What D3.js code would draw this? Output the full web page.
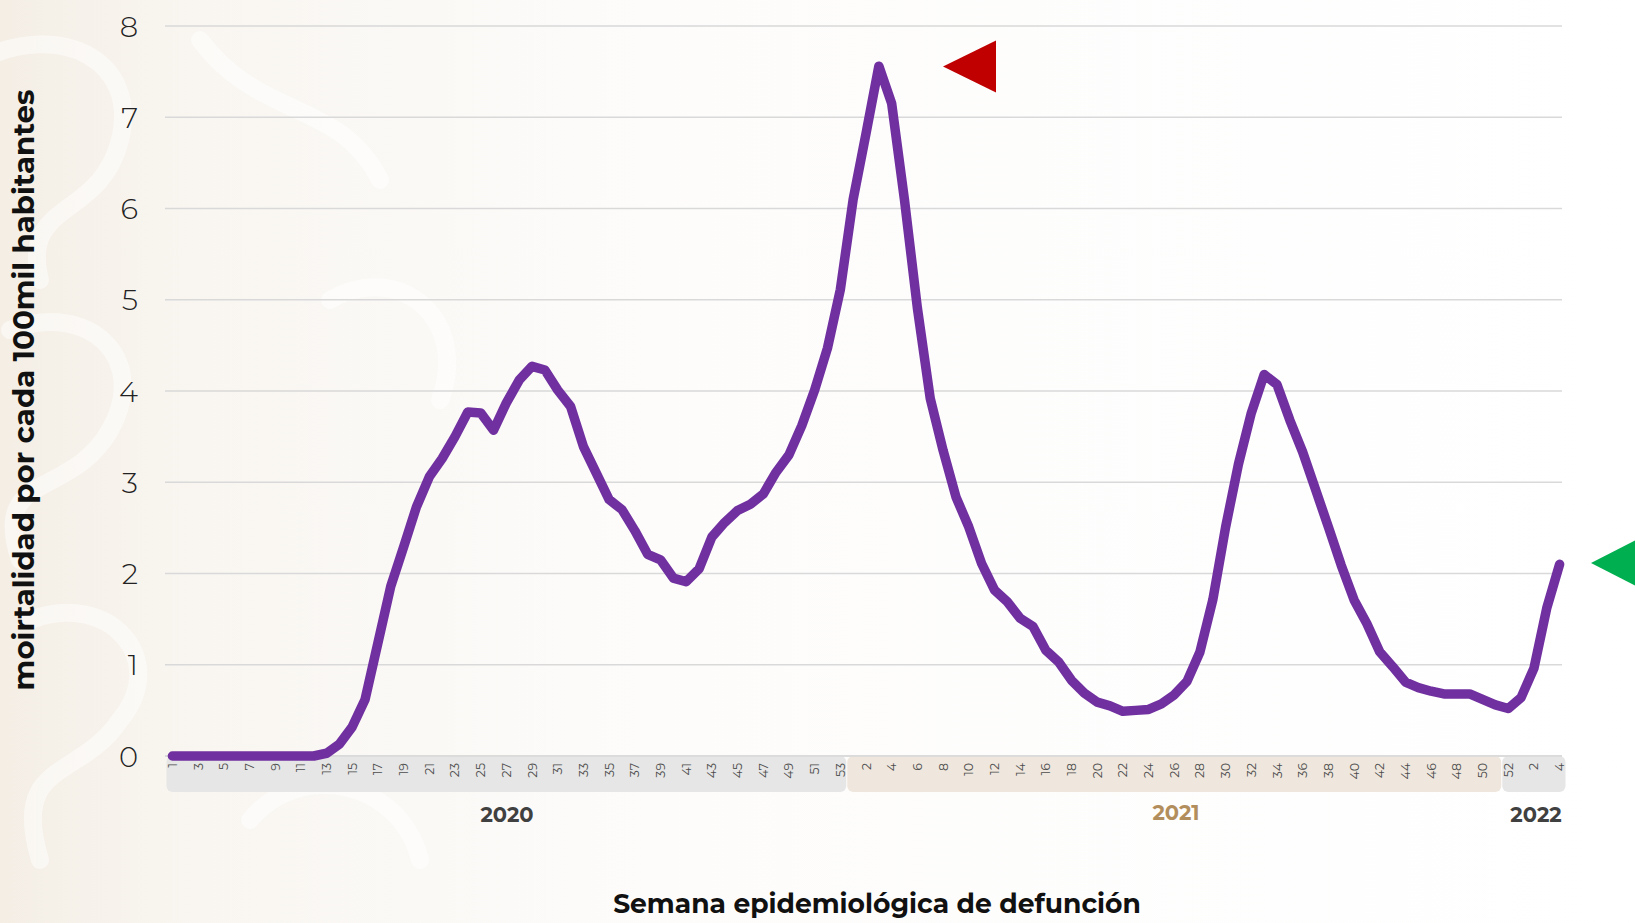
<!DOCTYPE html>
<html>
<head>
<meta charset="utf-8">
<script src="https://cdn.jsdelivr.net/npm/d3@7/dist/d3.min.js"></script>
<style>
  html, body { margin: 0; padding: 0; background: #ffffff; }
  svg { display: block; }
</style>
</head>
<body>
<svg id="chart" width="1635" height="923"></svg>
<script>
// ---------------- DATA ----------------
const years = ["2020", "2021", "2022"];
const weeks2020 = d3.range(1, 54);   // 1..53
const weeks2021 = d3.range(1, 53);   // 1..52
const weeks2022 = d3.range(1, 5);    // 1..4

const values2020 = [0,0,0,0,0,0,0,0,0,0,0,0,
  0.03,0.13,0.32,0.62,1.24,1.86,2.29,2.73,3.06,3.26,3.50,3.77,3.76,3.57,3.87,4.12,4.27,4.23,
  4.01,3.83,3.39,3.10,2.81,2.70,2.47,2.21,2.15,1.95,1.91,2.05,2.40,2.56,2.69,2.76,2.87,3.11,
  3.30,3.62,4.01,4.47,5.11];
const values2021 = [6.10,6.82,7.56,7.15,6.09,4.91,3.92,3.35,2.84,2.51,2.11,1.82,1.69,1.51,1.42,
  1.16,1.03,0.83,0.69,0.59,0.55,0.49,0.50,0.51,0.57,0.67,0.82,1.14,1.71,2.51,3.20,3.76,4.18,
  4.07,3.68,3.33,2.92,2.51,2.09,1.71,1.45,1.14,0.98,0.81,0.75,0.71,0.68,0.68,0.68,0.62,0.56,0.52];
const values2022 = [0.64,0.96,1.62,2.10];

const yTicks = [0,1,2,3,4,5,6,7,8];

// year bands under the axis: first and last category keys
const bandYears  = ["2020", "2021", "2022"];
const bandFirst  = ["2020-1", "2021-1", "2021-52"];
const bandLast   = ["2020-53", "2021-51", "2022-4"];

const yTitle = "moirtalidad por cada 100mil habitantes";
const xTitle = "Semana epidemiológica de defunción";

(function () {
// ---------------- BUILD ----------------
const rows = [];
weeks2020.forEach((w, i) => rows.push({key: "2020-" + w, year: "2020", week: w, value: values2020[i]}));
weeks2021.forEach((w, i) => rows.push({key: "2021-" + w, year: "2021", week: w, value: values2021[i]}));
weeks2022.forEach((w, i) => rows.push({key: "2022-" + w, year: "2022", week: w, value: values2022[i]}));

const svg = d3.select("#chart");
const W = 1635, H = 923;
const mLeft = 166, mRight = 1566, mTop = 26, mBottom = 756;
const gridRight = 1562;

const x = d3.scalePoint().domain(rows.map(d => d.key)).range([mLeft, mRight]).padding(0.5);
const step = x.step();
const y = d3.scaleLinear().domain([0, 8]).range([mBottom, mTop]);

// ---------------- BACKGROUND ----------------
const defs = svg.append("defs");
const bg = defs.append("linearGradient").attr("id", "bgGrad").attr("x1", 0).attr("x2", 1).attr("y1", 0).attr("y2", 0);
bg.append("stop").attr("offset", "0%").attr("stop-color", "#f4eee5");
bg.append("stop").attr("offset", "12%").attr("stop-color", "#f9f6f1");
bg.append("stop").attr("offset", "40%").attr("stop-color", "#fdfcfb");
bg.append("stop").attr("offset", "100%").attr("stop-color", "#ffffff");
svg.append("rect").attr("width", W).attr("height", H).attr("fill", "url(#bgGrad)");

// faint ornamental swirls
const orn = svg.append("g").attr("fill", "none").attr("stroke", "#ffffff").attr("stroke-opacity", 0.5).attr("stroke-linecap", "round");
const swirlPaths = [
  "M -20 60 C 60 20, 140 60, 120 140 C 100 220, 20 200, 40 280",
  "M 10 330 C 90 300, 150 360, 110 430 C 70 500, -10 470, 20 560",
  "M 30 620 C 110 590, 170 660, 120 720 C 80 780, 10 760, 40 860",
  "M 200 40 C 260 120, 340 100, 380 180",
  "M 250 820 C 300 760, 400 780, 420 860",
  "M 330 300 C 400 260, 470 320, 440 400"
];
orn.selectAll("path").data(swirlPaths).enter().append("path")
  .attr("d", d => d).attr("stroke-width", 18);

// ---------------- GRIDLINES ----------------
svg.append("g").selectAll("line").data(yTicks).enter().append("line")
  .attr("x1", mLeft - 1).attr("x2", gridRight)
  .attr("y1", d => y(d)).attr("y2", d => y(d))
  .attr("stroke", "#d9d9d9").attr("stroke-width", 1.5);

// ---------------- YEAR BANDS ----------------
const bandColors = {"2020": "#e6e6e6", "2021": "#efe7dd", "2022": "#e6e6e6"};
const bands = bandYears.map((yr, i) => ({
  year: yr,
  x0: x(bandFirst[i]) - step / 2,
  x1: x(bandLast[i]) + step / 2
}));
svg.append("g").selectAll("rect").data(bands).enter().append("rect")
  .attr("x", d => d.x0 + 0.5).attr("width", d => d.x1 - d.x0 - 1)
  .attr("y", mBottom).attr("height", 36)
  .attr("rx", 6).attr("ry", 6)
  .attr("fill", d => bandColors[d.year]);
svg.append("line").attr("x1", mLeft - 1).attr("x2", gridRight).attr("y1", mBottom).attr("y2", mBottom)
  .attr("stroke", "#d9d9d9").attr("stroke-width", 1.5);

// week tick labels
const showLabel = d => d.year === "2020" ? (d.week % 2 === 1) : (d.week % 2 === 0);
svg.append("g").selectAll("text").data(rows.filter(showLabel)).enter().append("text")
  .attr("transform", d => `translate(${x(d.key)},763) rotate(-90)`)
  .attr("text-anchor", "end").attr("dominant-baseline", "central")
  .attr("font-family", "Montserrat, 'Open Sans', sans-serif").attr("font-size", 12.5)
  .attr("fill", "#4d4d4d")
  .text(d => d.week);

// year labels
const yearLabelPos = {"2020": 507, "2021": 1176, "2022": 1536};
const yearLabelY = {"2020": 822, "2021": 820, "2022": 822};
const yearColors = {"2020": "#404040", "2021": "#b38e5d", "2022": "#404040"};
svg.append("g").selectAll("text").data(years).enter().append("text")
  .attr("x", d => yearLabelPos[d]).attr("y", d => yearLabelY[d])
  .attr("text-anchor", "middle")
  .attr("font-family", "Montserrat, 'Open Sans', sans-serif").attr("font-weight", "bold").attr("font-size", 21)
  .attr("fill", d => yearColors[d])
  .text(d => d);

// ---------------- Y AXIS ----------------
const yAxis = d3.axisLeft(y).tickValues(yTicks).tickSize(0).tickPadding(0).tickFormat(d3.format("d"));
const yg = svg.append("g").attr("transform", "translate(138,0)").call(yAxis);
yg.select(".domain").remove();
yg.selectAll("text")
  .attr("font-family", "Montserrat, Lato, 'Open Sans', sans-serif")
  .attr("font-weight", 300)
  .attr("font-size", 29).attr("fill", "#222222").attr("dy", "0.35em");

// ---------------- LINE ----------------
const line = d3.line().x(d => x(d.key)).y(d => y(d.value));
svg.append("path").datum(rows).attr("d", line)
  .attr("fill", "none").attr("stroke", "#7030a0").attr("stroke-width", 9.5)
  .attr("stroke-linejoin", "round").attr("stroke-linecap", "round");

// ---------------- MARKERS ----------------
svg.append("path").attr("d", "M 943 66.5 L 996 40.5 L 996 92.5 Z").attr("fill", "#c00000");
svg.append("path").attr("d", "M 1591 563 L 1640 538 L 1640 588 Z").attr("fill", "#00b050");

// ---------------- TITLES ----------------
function fitText(sel, target) {
  const len = sel.node().getComputedTextLength();
  const fs = parseFloat(sel.attr("font-size"));
  sel.attr("font-size", fs * target / len);
}
const yt = svg.append("text")
  .attr("transform", "translate(23,390) rotate(-90)")
  .attr("text-anchor", "middle").attr("dominant-baseline", "central")
  .attr("font-family", "Montserrat, 'Open Sans', sans-serif").attr("font-weight", "bold")
  .attr("font-size", 26).attr("fill", "#111111")
  .text(yTitle);
fitText(yt, 601);

const xt = svg.append("text")
  .attr("x", 877).attr("y", 913)
  .attr("text-anchor", "middle")
  .attr("font-family", "Montserrat, 'Open Sans', sans-serif").attr("font-weight", "bold")
  .attr("font-size", 24).attr("fill", "#111111")
  .text(xTitle);
fitText(xt, 528);
})();
</script>
</body>
</html>
